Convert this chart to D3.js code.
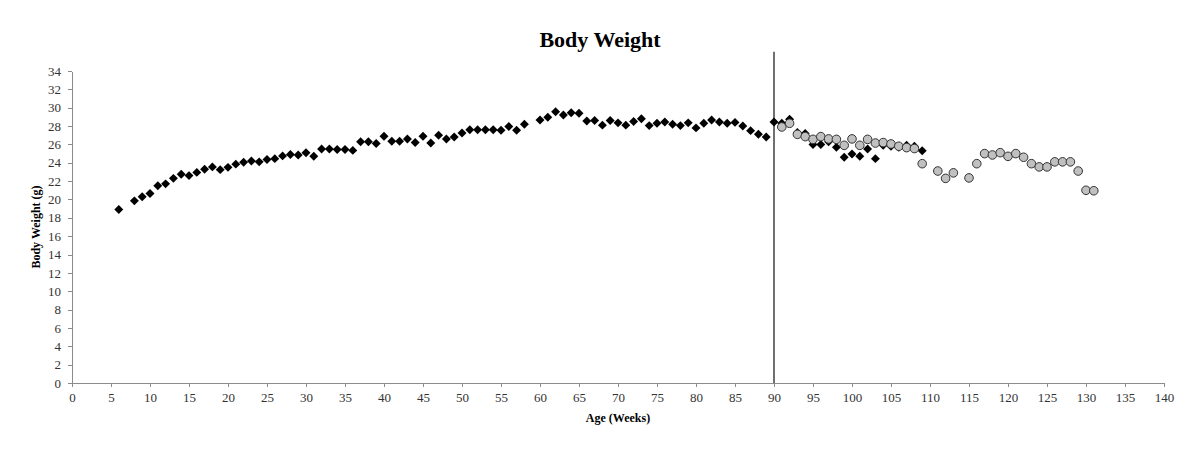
<!doctype html>
<html lang="en">
<head>
    <meta charset="UTF-8">
    <title>Body Weight</title>
    <style>
        body {
            margin: 0;
            background: #fff;
        }

        .chart {
            display: block;
        }

        .axis text {
            font: 13px "Liberation Serif", "Times New Roman", serif;
            fill: #333;
        }

        .axis path,
        .axis line {
            fill: none;
            stroke: #8c8c8c;
            shape-rendering: crispEdges;
        }

        .title {
            font: bold 22px "Liberation Serif", "Times New Roman", serif;
        }

        .label {
            font: bold 12px "Liberation Serif", "Times New Roman", serif;
        }
    </style>
</head>

<body>
<svg class="chart"></svg>
</body>

<script src="https://d3js.org/d3.v7.min.js" charset="utf-8"></script>
<script>
    // black diamonds
    var diamondWeeks = [6, 8, 9, 10, 11, 12, 13, 14, 15, 16, 17, 18, 19, 20, 21, 22, 23, 24, 25, 26,
        27, 28, 29, 30, 31, 32, 33, 34, 35, 36, 37, 38, 39, 40, 41, 42, 43, 44, 45, 46,
        47, 48, 49, 50, 51, 52, 53, 54, 55, 56, 57, 58, 60, 61, 62, 63, 64, 65, 66, 67,
        68, 69, 70, 71, 72, 73, 74, 75, 76, 77, 78, 79, 80, 81, 82, 83, 84, 85, 86, 87,
        88, 89, 90, 91, 92, 93, 94, 95, 96, 97, 98, 99, 100, 101, 102, 103, 104, 105, 106, 107,
        108, 109];
    var diamondWeights = [18.9, 19.85, 20.3, 20.65, 21.5, 21.7, 22.3, 22.75, 22.6, 22.95, 23.3, 23.55, 23.25, 23.5, 23.85, 24.05, 24.2, 24.1, 24.35, 24.45,
        24.75, 24.9, 24.85, 25.1, 24.7, 25.5, 25.5, 25.45, 25.45, 25.35, 26.3, 26.3, 26.1, 26.9, 26.35, 26.35, 26.6, 26.2, 26.9, 26.15,
        27.0, 26.6, 26.8, 27.25, 27.6, 27.6, 27.6, 27.6, 27.55, 27.95, 27.55, 28.2, 28.65, 28.95, 29.55, 29.2, 29.45, 29.4, 28.55, 28.6,
        28.1, 28.6, 28.35, 28.1, 28.5, 28.8, 28.05, 28.3, 28.45, 28.2, 28.05, 28.35, 27.8, 28.3, 28.65, 28.45, 28.3, 28.4, 28.0, 27.5,
        27.1, 26.8, 28.45, 28.3, 28.75, 27.3, 27.2, 26.0, 26.0, 26.3, 25.7, 24.6, 24.95, 24.7, 25.5, 24.45, 25.9, 25.8, 25.7, 25.9,
        25.8, 25.3];

    // grey circles
    var circleWeeks = [91, 92, 93, 94, 95, 96, 97, 98, 99, 100, 101, 102, 103, 104, 105, 106, 107, 108, 109,
        111, 112, 113, 115, 116, 117, 118, 119, 120, 121, 122, 123, 124, 125, 126, 127, 128, 129, 130, 131];
    var circleWeights = [27.9, 28.3, 27.1, 26.85, 26.55, 26.85, 26.6, 26.55, 25.9, 26.6, 25.9, 26.55, 26.15, 26.2, 26.05, 25.8, 25.65, 25.55, 23.9,
        23.1, 22.3, 22.9, 22.35, 23.9, 25.0, 24.85, 25.1, 24.7, 25.0, 24.6, 23.9, 23.55, 23.55, 24.1, 24.1, 24.1, 23.1, 21.0, 20.95];

    var xTicks = d3.range(0, 141, 5);
    var yTicks = d3.range(0, 35, 2);
    var markerWeek = 90;

    var totalWidth = 1200, totalHeight = 456;
    var margin = {top: 71, right: 36, bottom: 73, left: 72};
    var width = totalWidth - margin.left - margin.right;
    var height = totalHeight - margin.top - margin.bottom;

    var x = d3.scaleLinear().domain([0, 140]).range([0, width]);
    var y = d3.scaleLinear().domain([0, 34]).range([height, 0]);

    var svg = d3.select(".chart")
        .attr("width", totalWidth)
        .attr("height", totalHeight);

    var g = svg.append("g")
        .attr("transform", "translate(" + margin.left + "," + margin.top + ")");

    // title
    svg.append("text")
        .attr("class", "title")
        .attr("x", 600)
        .attr("y", 47)
        .attr("text-anchor", "middle")
        .text("Body Weight");

    // x-axis
    g.append("g").attr("class", "x axis")
        .attr("transform", "translate(0," + height + ")")
        .call(d3.axisBottom(x).tickValues(xTicks).tickSize(4).tickPadding(6).tickSizeOuter(0));

    // y-axis
    g.append("g").attr("class", "y axis")
        .call(d3.axisLeft(y).tickValues(yTicks).tickSize(4).tickPadding(7).tickSizeOuter(0));

    // axis titles
    g.append("text")
        .attr("class", "label")
        .attr("x", width / 2)
        .attr("y", height + 39)
        .attr("text-anchor", "middle")
        .text("Age (Weeks)");

    g.append("text")
        .attr("class", "label")
        .attr("transform", "translate(-32," + (height / 2) + ") rotate(-90)")
        .attr("text-anchor", "middle")
        .text("Body Weight (g)");

    // marker line at 90 weeks
    g.append("line")
        .attr("x1", x(markerWeek)).attr("x2", x(markerWeek))
        .attr("y1", y(0)).attr("y2", y(36.1))
        .attr("stroke", "#222")
        .attr("stroke-width", 1.3);

    var diamonds = diamondWeeks.map(function(w, i) { return {week: w, weight: diamondWeights[i]}; });
    var circles = circleWeeks.map(function(w, i) { return {week: w, weight: circleWeights[i]}; });

    var diamond = d3.symbol().type(d3.symbolSquare).size(40);

    g.selectAll(".diamond").data(diamonds).enter()
        .append("path").attr("class", "diamond")
        .attr("d", diamond)
        .attr("transform", function(d) {
            return "translate(" + x(d.week) + "," + y(d.weight) + ") rotate(45)";
        })
        .attr("fill", "#000");

    g.selectAll(".dot").data(circles).enter()
        .append("circle").attr("class", "dot")
        .attr("cx", function(d) { return x(d.week); })
        .attr("cy", function(d) { return y(d.weight); })
        .attr("r", 4.3)
        .attr("fill", "#c0c0c0")
        .attr("stroke", "#333")
        .attr("stroke-width", 1);
</script>
</html>
